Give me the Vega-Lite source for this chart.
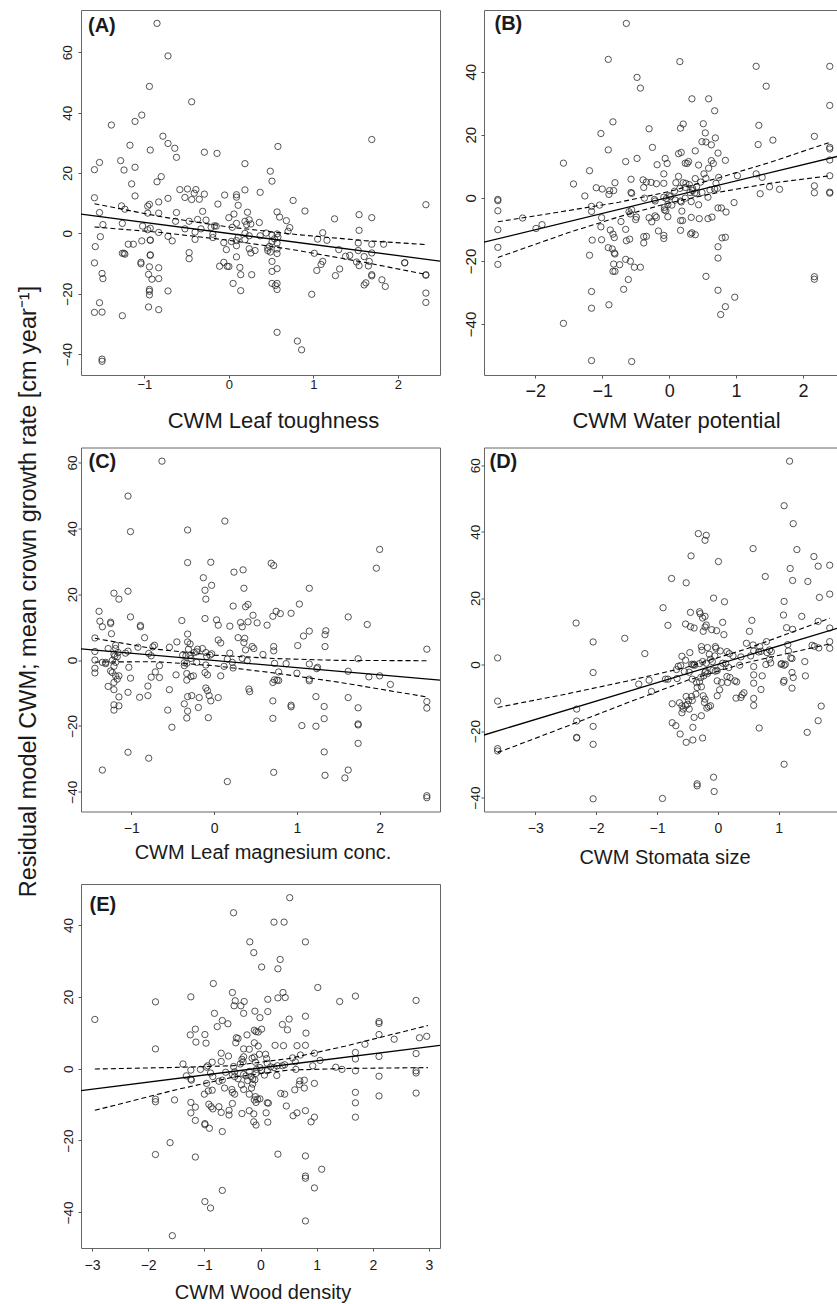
{
"$schema": "https://vega.github.io/schema/vega-lite/v6.json",
"usermeta": {"embedOptions": {"actions": false}},
"autosize": {"type": "pad"},
"padding": {"left": 15, "top": 9, "right": 0, "bottom": 0},
"background": "white",
"config": {
 "font": "Liberation Sans",
 "view": {"stroke": "#666666", "strokeWidth": 1},
 "axis": {"domain": false, "grid": false, "tickSize": 3, "tickColor": "#555555", "tickWidth": 1, "labelColor": "#1a1a1a", "titleColor": "#1a1a1a", "titleFontWeight": "normal", "labelFont": "Liberation Sans", "titleFont": "Liberation Sans", "labelFlush": false, "labelOverlap": false},
 "axisX": {"labelBaseline": "top", "labelAngle": 0, "labelAlign": "center", "titleBaseline": "alphabetic", "titleAlign": "center"},
 "axisY": {"labelAngle": 270, "labelAlign": "center", "labelBaseline": "middle"},
 "title": {"font": "Liberation Sans", "fontWeight": "bold", "fontSize": 20, "color": "#1a1a1a", "anchor": "start", "frame": "group", "orient": "top", "baseline": "alphabetic", "offset": -24}
},
"datasets": {
"A_pts": [
{"x":-0.85,"y":69.6},{"x":-0.72,"y":58.8},{"x":-0.94,"y":48.7},{"x":-0.44,"y":43.6},{"x":-1.03,"y":39.2},{"x":-1.11,"y":37.1},{"x":-1.39,"y":35.9},{"x":-0.78,"y":32.2},{"x":-0.72,"y":29.8},{"x":-0.64,"y":28.2},
{"x":-0.62,"y":25.2},{"x":-0.93,"y":27.6},{"x":-1.17,"y":29.2},{"x":-0.29,"y":26.9},{"x":-0.14,"y":26.5},{"x":0.58,"y":28.8},{"x":1.69,"y":31.1},{"x":0.19,"y":23.1},{"x":-1.28,"y":24.1},{"x":-1.59,"y":21.1},
{"x":-1.53,"y":23.5},{"x":-1.24,"y":21.0},{"x":-1.11,"y":21.9},{"x":-1.15,"y":16.4},{"x":-0.80,"y":18.8},{"x":-0.85,"y":17.1},{"x":-1.11,"y":12.4},{"x":0.49,"y":20.6},{"x":0.51,"y":17.3},{"x":-1.59,"y":11.8},
{"x":-1.53,"y":6.9},{"x":-1.49,"y":2.9},{"x":-1.52,"y":-1.1},{"x":-1.27,"y":9.1},{"x":-1.23,"y":8.0},{"x":-1.26,"y":3.3},{"x":-0.96,"y":9.0},{"x":-0.94,"y":9.6},{"x":-0.96,"y":6.7},{"x":-0.83,"y":10.4},
{"x":-0.72,"y":11.6},{"x":-0.83,"y":6.7},{"x":-0.58,"y":14.5},{"x":-0.52,"y":11.9},{"x":-0.49,"y":14.7},{"x":-0.39,"y":14.5},{"x":-0.41,"y":13.3},{"x":-0.44,"y":11.2},{"x":-0.35,"y":11.3},{"x":-0.29,"y":13.0},
{"x":-0.31,"y":7.3},{"x":-0.37,"y":4.6},{"x":-0.27,"y":4.4},{"x":-0.62,"y":6.9},{"x":-0.63,"y":4.0},{"x":-0.13,"y":9.7},{"x":-0.05,"y":12.7},{"x":0.09,"y":12.8},{"x":0.09,"y":12.0},{"x":0.11,"y":9.3},
{"x":0.19,"y":14.4},{"x":0.37,"y":13.6},{"x":0.76,"y":10.9},{"x":0.90,"y":7.4},{"x":0.22,"y":7.0},{"x":0.06,"y":6.4},{"x":0.57,"y":7.1},{"x":0.60,"y":5.4},{"x":0.68,"y":4.2},{"x":0.36,"y":3.6},
{"x":0.09,"y":3.3},{"x":0.19,"y":4.0},{"x":0.24,"y":4.5},{"x":0.26,"y":3.1},{"x":0.21,"y":2.9},{"x":-0.47,"y":4.0},{"x":-0.52,"y":1.5},{"x":-0.40,"y":0.4},{"x":-0.33,"y":1.5},{"x":-0.21,"y":2.0},
{"x":-0.17,"y":2.5},{"x":-0.15,"y":2.4},{"x":0.00,"y":5.2},{"x":0.04,"y":2.0},{"x":0.19,"y":0.0},{"x":0.24,"y":-0.8},{"x":0.11,"y":-1.3},{"x":0.37,"y":-0.8},{"x":0.44,"y":0.1},{"x":0.51,"y":-0.6},
{"x":0.54,"y":-1.8},{"x":0.57,"y":-0.2},{"x":0.58,"y":-1.2},{"x":0.70,"y":0.7},{"x":0.72,"y":1.9},{"x":0.51,"y":-2.8},{"x":0.57,"y":-3.2},{"x":-0.83,"y":0.3},{"x":-0.93,"y":1.7},{"x":-0.96,"y":1.2},
{"x":-1.02,"y":2.4},{"x":-0.72,"y":-1.0},{"x":-0.67,"y":-2.5},{"x":-0.40,"y":-2.0},{"x":-0.19,"y":-0.3},{"x":-0.19,"y":-1.4},{"x":-0.06,"y":-3.1},{"x":-0.03,"y":-5.4},{"x":0.03,"y":-2.7},{"x":0.09,"y":-2.4},
{"x":0.09,"y":-4.1},{"x":0.19,"y":-2.1},{"x":0.24,"y":-5.1},{"x":0.26,"y":-6.5},{"x":0.31,"y":-5.7},{"x":0.46,"y":-4.9},{"x":0.48,"y":-4.3},{"x":0.49,"y":-6.2},{"x":0.57,"y":-6.7},{"x":0.46,"y":-5.7},
{"x":0.51,"y":-9.3},{"x":0.57,"y":-5.2},{"x":1.11,"y":0.2},{"x":1.05,"y":-1.9},{"x":1.16,"y":-2.3},{"x":1.25,"y":4.8},{"x":1.54,"y":6.2},{"x":1.54,"y":1.0},{"x":1.69,"y":5.2},{"x":1.53,"y":-3.2},
{"x":1.69,"y":-3.6},{"x":1.83,"y":-3.6},{"x":1.30,"y":-5.4},{"x":1.01,"y":-6.6},{"x":1.38,"y":-7.6},{"x":1.43,"y":-7.3},{"x":1.53,"y":-5.7},{"x":1.60,"y":-7.7},{"x":1.69,"y":-6.5},{"x":1.51,"y":-9.5},
{"x":1.66,"y":-9.3},{"x":2.08,"y":-9.7},{"x":2.08,"y":-9.8},{"x":1.11,"y":-9.3},{"x":1.09,"y":-10.3},{"x":1.04,"y":-12.3},{"x":1.31,"y":-11.8},{"x":1.26,"y":-14.0},{"x":1.65,"y":-10.8},{"x":1.69,"y":-13.7},
{"x":1.69,"y":-14.1},{"x":1.60,"y":-17.1},{"x":1.62,"y":-16.4},{"x":1.81,"y":-15.4},{"x":1.85,"y":-17.6},{"x":1.54,"y":-10.7},{"x":0.98,"y":-20.2},{"x":-1.58,"y":-4.4},{"x":-1.59,"y":-9.8},{"x":-1.19,"y":-3.6},
{"x":-1.13,"y":-3.6},{"x":-1.26,"y":-6.6},{"x":-1.24,"y":-6.6},{"x":-1.23,"y":-6.9},{"x":-1.03,"y":-2.5},{"x":-1.04,"y":-9.6},{"x":-1.04,"y":-10.1},{"x":-0.93,"y":-2.2},{"x":-0.93,"y":-2.3},{"x":-0.93,"y":-7.1},
{"x":-0.93,"y":-7.3},{"x":-0.94,"y":-11.1},{"x":-0.83,"y":-11.4},{"x":-0.95,"y":-13.6},{"x":-0.91,"y":-15.2},{"x":-0.83,"y":-15.0},{"x":-0.94,"y":-18.6},{"x":-0.94,"y":-19.2},{"x":-0.94,"y":-20.4},{"x":-0.72,"y":-19.1},
{"x":-0.95,"y":-24.4},{"x":-0.83,"y":-25.3},{"x":-1.26,"y":-27.3},{"x":-1.59,"y":-26.2},{"x":-1.50,"y":-26.1},{"x":-1.53,"y":-23.0},{"x":-1.50,"y":-13.3},{"x":-1.49,"y":-15.0},{"x":-1.50,"y":-41.7},{"x":-1.50,"y":-42.4},
{"x":-0.47,"y":-6.4},{"x":-0.47,"y":-8.4},{"x":-0.11,"y":-10.9},{"x":-0.06,"y":-9.6},{"x":-0.02,"y":-10.9},{"x":0.00,"y":-11.0},{"x":0.09,"y":-7.8},{"x":0.13,"y":-11.3},{"x":0.14,"y":-13.7},{"x":0.05,"y":-16.6},
{"x":0.14,"y":-19.0},{"x":0.27,"y":-13.7},{"x":0.51,"y":-12.6},{"x":0.57,"y":-11.7},{"x":0.51,"y":-16.6},{"x":0.57,"y":-16.6},{"x":0.57,"y":-18.6},{"x":0.57,"y":-32.8},{"x":0.81,"y":-35.7},{"x":0.86,"y":-38.6},
{"x":0.55,"y":-17.3},{"x":2.33,"y":9.5},{"x":2.33,"y":-13.7},{"x":2.33,"y":-13.9},{"x":2.33,"y":-19.8},{"x":2.33,"y":-22.9}
],
"A_fit": [{"x":-1.749,"y":6.4},{"x":2.497,"y":-9.2}],
"A_ci": [
{"band":"upper","x":-1.59,"y":9.8},{"band":"upper","x":-0.8,"y":5.5},{"band":"upper","x":0,"y":2.1},{"band":"upper","x":0.8,"y":-0.4},{"band":"upper","x":1.6,"y":-2.4},{"band":"upper","x":2.33,"y":-3.7},
{"band":"lower","x":-1.59,"y":2.1},{"band":"lower","x":-0.8,"y":0.3},{"band":"lower","x":0,"y":-2.3},{"band":"lower","x":0.8,"y":-5.6},{"band":"lower","x":1.6,"y":-9.6},{"band":"lower","x":2.33,"y":-13.6}
],
"B_pts": [
{"x":-0.64,"y":55.3},{"x":-0.91,"y":43.9},{"x":0.16,"y":43.2},{"x":1.30,"y":41.7},{"x":2.40,"y":41.7},{"x":-0.48,"y":38.2},{"x":-0.43,"y":34.8},{"x":1.45,"y":35.4},{"x":0.34,"y":31.4},{"x":0.59,"y":31.4},
{"x":2.40,"y":29.3},{"x":0.68,"y":27.6},{"x":-0.84,"y":24.1},{"x":0.21,"y":23.4},{"x":0.17,"y":22.1},{"x":0.51,"y":23.5},{"x":-0.30,"y":21.9},{"x":-1.02,"y":20.4},{"x":0.54,"y":20.6},{"x":0.49,"y":17.8},
{"x":0.55,"y":17.7},{"x":0.69,"y":19.0},{"x":-0.91,"y":15.2},{"x":1.34,"y":23.0},{"x":1.33,"y":16.9},{"x":1.55,"y":18.3},{"x":2.17,"y":19.5},{"x":2.40,"y":16.0},{"x":2.40,"y":15.5},{"x":2.40,"y":12.0},
{"x":2.40,"y":7.0},{"x":2.40,"y":1.5},{"x":2.40,"y":1.8},{"x":2.17,"y":3.8},{"x":2.17,"y":1.6},{"x":-0.25,"y":16.0},{"x":-0.48,"y":12.5},{"x":-0.65,"y":11.5},{"x":-1.58,"y":11.0},{"x":-1.19,"y":8.6},
{"x":-0.06,"y":12.5},{"x":0.14,"y":14.0},{"x":0.18,"y":14.4},{"x":-0.03,"y":10.9},{"x":-0.18,"y":10.5},{"x":0.29,"y":11.5},{"x":0.24,"y":11.0},{"x":0.27,"y":10.9},{"x":0.39,"y":14.9},{"x":0.63,"y":16.8},
{"x":0.73,"y":14.2},{"x":0.63,"y":11.8},{"x":0.66,"y":10.9},{"x":0.84,"y":11.9},{"x":0.74,"y":6.5},{"x":0.72,"y":3.0},{"x":0.68,"y":2.8},{"x":0.61,"y":2.5},{"x":0.70,"y":4.6},{"x":0.55,"y":6.2},
{"x":0.52,"y":7.6},{"x":0.44,"y":10.4},{"x":0.59,"y":9.4},{"x":0.47,"y":5.0},{"x":0.49,"y":1.7},{"x":0.41,"y":3.5},{"x":0.39,"y":6.1},{"x":0.14,"y":6.8},{"x":0.10,"y":4.8},{"x":0.21,"y":4.8},
{"x":0.25,"y":4.6},{"x":0.30,"y":4.2},{"x":0.35,"y":3.0},{"x":0.31,"y":1.7},{"x":0.24,"y":3.3},{"x":0.16,"y":3.0},{"x":0.08,"y":2.1},{"x":0.02,"y":0.4},{"x":0.09,"y":-0.7},{"x":-0.04,"y":-0.2},
{"x":-0.08,"y":4.6},{"x":-0.08,"y":7.6},{"x":-0.19,"y":4.5},{"x":-0.27,"y":4.9},{"x":-0.34,"y":5.0},{"x":-0.39,"y":5.7},{"x":-0.38,"y":3.3},{"x":-0.57,"y":5.9},{"x":-0.81,"y":4.8},{"x":-0.83,"y":2.3},
{"x":-0.90,"y":1.1},{"x":-0.57,"y":1.7},{"x":-0.56,"y":1.4},{"x":-0.37,"y":-0.1},{"x":-0.22,"y":-0.5},{"x":-0.21,"y":-1.0},{"x":-0.08,"y":0.2},{"x":0.00,"y":0.7},{"x":-0.02,"y":-2.1},{"x":0.04,"y":-2.3},
{"x":-0.07,"y":-3.0},{"x":-0.07,"y":-3.8},{"x":-0.05,"y":-4.1},{"x":-0.02,"y":-6.0},{"x":0.17,"y":-1.0},{"x":0.18,"y":-1.3},{"x":0.24,"y":-0.1},{"x":0.35,"y":2.3},{"x":0.38,"y":1.5},{"x":0.33,"y":-1.2},
{"x":0.44,"y":-2.2},{"x":0.58,"y":0.2},{"x":0.41,"y":1.4},{"x":1.30,"y":7.6},{"x":1.39,"y":6.5},{"x":1.36,"y":1.3},{"x":1.50,"y":3.5},{"x":1.65,"y":2.7},{"x":1.02,"y":7.0},{"x":0.97,"y":-1.5},
{"x":0.85,"y":-4.5},{"x":0.78,"y":-3.2},{"x":0.73,"y":-3.2},{"x":0.64,"y":-6.1},{"x":0.58,"y":-6.6},{"x":0.33,"y":-6.2},{"x":0.45,"y":-6.6},{"x":0.19,"y":-4.2},{"x":0.20,"y":-7.2},{"x":0.17,"y":-7.2},
{"x":0.17,"y":-10.3},{"x":0.34,"y":-11.1},{"x":0.32,"y":-11.5},{"x":0.39,"y":-11.7},{"x":-0.21,"y":-5.7},{"x":-0.19,"y":-6.2},{"x":-0.30,"y":-6.3},{"x":-0.26,"y":-7.6},{"x":-0.16,"y":-10.5},{"x":-0.08,"y":-11.9},
{"x":-0.08,"y":-12.9},{"x":-0.38,"y":-12.3},{"x":-0.34,"y":-12.2},{"x":-0.38,"y":-14.3},{"x":-0.49,"y":-6.1},{"x":-0.50,"y":-6.9},{"x":-0.56,"y":-3.8},{"x":-0.60,"y":-4.4},{"x":-0.58,"y":-5.1},{"x":-0.72,"y":-7.5},
{"x":-0.65,"y":-10.0},{"x":-0.59,"y":-13.1},{"x":-0.64,"y":-13.6},{"x":-0.65,"y":-19.5},{"x":-0.58,"y":-20.1},{"x":-0.68,"y":-29.0},{"x":-0.61,"y":-25.9},{"x":-0.52,"y":-22.0},{"x":-0.43,"y":-22.0},{"x":-1.04,"y":-2.3},
{"x":-1.01,"y":-6.3},{"x":-1.02,"y":-9.2},{"x":-1.16,"y":-2.7},{"x":-1.16,"y":-4.3},{"x":-1.26,"y":0.6},{"x":-1.09,"y":3.2},{"x":-1.00,"y":2.8},{"x":-0.89,"y":2.3},{"x":-1.15,"y":-13.4},{"x":-1.01,"y":-13.3},
{"x":-0.88,"y":-10.2},{"x":-0.84,"y":-11.5},{"x":-0.82,"y":-12.6},{"x":-0.85,"y":-16.2},{"x":-0.82,"y":-17.5},{"x":-0.81,"y":-17.8},{"x":-0.74,"y":-21.2},{"x":-0.83,"y":-21.0},{"x":-0.81,"y":-23.3},{"x":-0.84,"y":-23.3},
{"x":-0.91,"y":-15.8},{"x":-1.19,"y":-18.2},{"x":-1.16,"y":-29.7},{"x":-1.16,"y":-35.0},{"x":-0.90,"y":-33.9},{"x":-1.16,"y":-51.6},{"x":-0.56,"y":-51.9},{"x":-1.58,"y":-39.8},{"x":-1.43,"y":4.4},{"x":-1.99,"y":-9.7},
{"x":-1.90,"y":-8.5},{"x":-2.19,"y":-6.4},{"x":-2.56,"y":-0.5},{"x":-2.56,"y":-0.9},{"x":-2.56,"y":-4.1},{"x":-2.56,"y":-10.1},{"x":-2.56,"y":-15.7},{"x":-2.56,"y":-21.1},{"x":0.55,"y":-24.9},{"x":0.73,"y":-29.3},
{"x":0.73,"y":-19.1},{"x":0.73,"y":-15.5},{"x":0.77,"y":-37.0},{"x":0.84,"y":-34.5},{"x":0.98,"y":-31.5},{"x":0.84,"y":-12.5},{"x":0.79,"y":-12.7},{"x":2.17,"y":-25.0},{"x":2.17,"y":-25.8}
],
"B_fit": [{"x":-2.767,"y":-14.05},{"x":2.523,"y":13.2}],
"B_ci": [
{"band":"upper","x":-2.56,"y":-7.6},{"band":"upper","x":-1.5,"y":-4.0},{"band":"upper","x":-0.75,"y":-1.4},{"band":"upper","x":0,"y":2.0},{"band":"upper","x":0.75,"y":6.4},{"band":"upper","x":1.5,"y":11.2},{"band":"upper","x":2.4,"y":17.6},
{"band":"lower","x":-2.56,"y":-18.9},{"band":"lower","x":-1.5,"y":-11.0},{"band":"lower","x":-0.75,"y":-6.0},{"band":"lower","x":0,"y":-1.6},{"band":"lower","x":0.75,"y":1.8},{"band":"lower","x":1.5,"y":4.6},{"band":"lower","x":2.4,"y":7.0}
],
"C_pts": [
{"x":-0.63,"y":60.4},{"x":-1.04,"y":49.8},{"x":-1.01,"y":39.0},{"x":0.13,"y":42.2},{"x":-0.32,"y":39.5},{"x":-0.32,"y":29.6},{"x":-0.04,"y":29.7},{"x":0.69,"y":29.4},{"x":0.72,"y":28.7},{"x":2.00,"y":33.6},
{"x":1.96,"y":27.9},{"x":-0.13,"y":25.0},{"x":-0.11,"y":21.2},{"x":-0.03,"y":22.7},{"x":0.36,"y":21.8},{"x":0.24,"y":26.7},{"x":0.35,"y":27.4},{"x":1.15,"y":21.8},{"x":-0.10,"y":18.5},{"x":0.23,"y":16.4},
{"x":0.38,"y":16.2},{"x":0.41,"y":16.9},{"x":0.47,"y":13.6},{"x":0.52,"y":11.3},{"x":0.32,"y":11.4},{"x":0.34,"y":10.1},{"x":0.41,"y":11.6},{"x":0.19,"y":10.3},{"x":0.03,"y":12.2},{"x":0.05,"y":10.6},
{"x":-0.11,"y":12.6},{"x":-0.39,"y":12.0},{"x":0.71,"y":13.3},{"x":0.75,"y":14.8},{"x":0.80,"y":14.1},{"x":0.93,"y":14.2},{"x":1.03,"y":17.0},{"x":0.64,"y":10.6},{"x":1.62,"y":13.1},{"x":1.85,"y":10.8},
{"x":1.15,"y":8.8},{"x":1.08,"y":7.3},{"x":1.34,"y":7.7},{"x":1.35,"y":8.9},{"x":1.34,"y":4.1},{"x":1.01,"y":4.4},{"x":-1.21,"y":20.3},{"x":-1.04,"y":20.9},{"x":-1.15,"y":18.5},{"x":-1.39,"y":14.8},
{"x":-1.38,"y":11.8},{"x":-1.35,"y":10.1},{"x":-1.25,"y":11.5},{"x":-1.25,"y":11.1},{"x":-1.01,"y":13.1},{"x":-0.89,"y":10.5},{"x":-0.89,"y":10.1},{"x":-0.84,"y":6.8},{"x":-1.24,"y":8.0},{"x":-1.44,"y":6.7},
{"x":-1.44,"y":2.6},{"x":-1.44,"y":0.0},{"x":-1.44,"y":-2.5},{"x":-1.44,"y":-3.9},{"x":-1.35,"y":-0.7},{"x":-1.31,"y":-0.7},{"x":-1.31,"y":-1.1},{"x":-1.25,"y":-3.3},{"x":-1.23,"y":-3.8},{"x":-1.28,"y":3.5},
{"x":-1.19,"y":4.5},{"x":-1.19,"y":3.5},{"x":-1.16,"y":2.3},{"x":-1.21,"y":1.8},{"x":-1.20,"y":1.2},{"x":-1.17,"y":1.0},{"x":-1.23,"y":-0.1},{"x":-1.19,"y":-0.7},{"x":-1.21,"y":-1.9},{"x":-1.19,"y":-4.8},
{"x":-1.21,"y":-6.8},{"x":-1.21,"y":-9.0},{"x":-1.15,"y":-4.8},{"x":-1.17,"y":-5.8},{"x":-1.15,"y":-11.2},{"x":-1.21,"y":-13.6},{"x":-1.21,"y":-15.2},{"x":-1.15,"y":-13.9},{"x":-1.28,"y":-8.0},{"x":-1.07,"y":2.1},
{"x":-1.04,"y":2.7},{"x":-1.03,"y":-2.2},{"x":-1.01,"y":-5.5},{"x":-1.04,"y":-9.8},{"x":-0.92,"y":3.9},{"x":-0.90,"y":-11.3},{"x":-0.79,"y":2.0},{"x":-0.76,"y":1.3},{"x":-0.74,"y":4.0},{"x":-0.72,"y":4.5},
{"x":-0.71,"y":-3.6},{"x":-0.66,"y":-5.3},{"x":-0.76,"y":-5.2},{"x":-0.80,"y":-7.9},{"x":-0.80,"y":-10.8},{"x":-0.66,"y":-1.7},{"x":-0.54,"y":3.9},{"x":-0.45,"y":5.5},{"x":-0.38,"y":1.5},{"x":-0.36,"y":-0.8},
{"x":-0.36,"y":-1.7},{"x":-0.33,"y":-1.0},{"x":-0.32,"y":7.9},{"x":-0.32,"y":5.5},{"x":-0.29,"y":4.9},{"x":-0.31,"y":3.3},{"x":-0.34,"y":1.3},{"x":-0.33,"y":-4.1},{"x":-0.33,"y":-6.1},{"x":-0.29,"y":1.5},
{"x":-0.28,"y":0.5},{"x":-0.24,"y":2.3},{"x":-0.21,"y":2.5},{"x":-0.20,"y":3.3},{"x":-0.14,"y":3.5},{"x":-0.10,"y":2.3},{"x":-0.09,"y":1.1},{"x":-0.05,"y":1.5},{"x":-0.03,"y":1.9},{"x":-0.21,"y":-0.7},
{"x":-0.10,"y":-1.5},{"x":-0.11,"y":-3.8},{"x":-0.08,"y":-4.5},{"x":-0.25,"y":-4.8},{"x":-0.28,"y":-5.0},{"x":-0.46,"y":-4.5},{"x":-0.54,"y":-9.0},{"x":-0.51,"y":-20.4},{"x":-0.56,"y":-15.2},{"x":-0.36,"y":-13.3},
{"x":-0.32,"y":-11.1},{"x":-0.32,"y":-15.5},{"x":-0.33,"y":-17.6},{"x":-0.27,"y":-10.8},{"x":-0.18,"y":-11.4},{"x":-0.19,"y":-14.4},{"x":-0.10,"y":-8.5},{"x":-0.08,"y":-9.3},{"x":-0.06,"y":-10.8},{"x":-0.04,"y":-12.4},
{"x":-0.07,"y":-17.5},{"x":0.05,"y":-11.4},{"x":0.08,"y":-4.8},{"x":0.05,"y":6.1},{"x":0.08,"y":5.2},{"x":0.19,"y":2.1},{"x":0.22,"y":-0.7},{"x":0.23,"y":-2.4},{"x":0.12,"y":-1.9},{"x":0.16,"y":0.3},
{"x":0.29,"y":6.8},{"x":0.36,"y":5.3},{"x":0.38,"y":3.1},{"x":0.34,"y":0.5},{"x":0.40,"y":-0.2},{"x":0.46,"y":4.1},{"x":0.48,"y":3.5},{"x":0.37,"y":6.6},{"x":0.59,"y":1.7},{"x":0.72,"y":4.1},
{"x":0.72,"y":2.8},{"x":0.73,"y":-1.0},{"x":0.71,"y":-6.8},{"x":0.73,"y":-6.0},{"x":0.76,"y":-6.1},{"x":0.78,"y":-6.2},{"x":0.78,"y":-3.6},{"x":0.87,"y":-1.1},{"x":0.71,"y":-12.4},{"x":0.71,"y":-17.7},
{"x":0.42,"y":-8.8},{"x":0.43,"y":-9.6},{"x":1.00,"y":-4.0},{"x":1.15,"y":-1.2},{"x":1.15,"y":-5.8},{"x":1.15,"y":-6.3},{"x":1.24,"y":-2.6},{"x":1.25,"y":-2.2},{"x":1.23,"y":-11.1},{"x":0.93,"y":-13.7},
{"x":0.93,"y":-14.2},{"x":1.06,"y":-19.9},{"x":1.23,"y":-20.1},{"x":1.33,"y":-14.1},{"x":1.33,"y":-17.8},{"x":1.33,"y":-27.9},{"x":1.34,"y":-35.0},{"x":1.62,"y":-3.4},{"x":1.74,"y":0.4},{"x":1.87,"y":-5.1},
{"x":2.00,"y":-4.8},{"x":2.13,"y":-7.4},{"x":1.62,"y":-11.4},{"x":1.74,"y":-14.5},{"x":1.74,"y":-19.4},{"x":1.74,"y":-19.7},{"x":1.74,"y":-25.3},{"x":1.62,"y":-33.4},{"x":1.58,"y":-35.8},{"x":-1.35,"y":-33.4},
{"x":-1.04,"y":-28.0},{"x":-0.79,"y":-29.8},{"x":0.16,"y":-36.9},{"x":0.72,"y":-34.1},{"x":2.57,"y":3.3},{"x":2.57,"y":-12.6},{"x":2.57,"y":-14.6},{"x":2.57,"y":-41.2},{"x":2.57,"y":-41.8}
],
"C_fit": [{"x":-1.608,"y":3.4},{"x":2.729,"y":-6.1}],
"C_ci": [
{"band":"upper","x":-1.44,"y":6.6},{"band":"upper","x":-0.7,"y":3.3},{"band":"upper","x":0,"y":1.5},{"band":"upper","x":0.75,"y":0.45},{"band":"upper","x":1.5,"y":-0.1},{"band":"upper","x":2.57,"y":-0.2},
{"band":"lower","x":-1.44,"y":-0.6},{"band":"lower","x":-0.7,"y":-0.5},{"band":"lower","x":0,"y":-1.7},{"band":"lower","x":0.75,"y":-4.0},{"band":"lower","x":1.5,"y":-6.7},{"band":"lower","x":2.57,"y":-11.2}
],
"D_pts": [
{"x":1.18,"y":61.2},{"x":1.09,"y":47.8},{"x":1.24,"y":42.4},{"x":1.30,"y":34.6},{"x":1.58,"y":32.5},{"x":1.65,"y":29.6},{"x":1.84,"y":29.9},{"x":1.19,"y":28.9},{"x":1.23,"y":25.3},{"x":1.48,"y":25.0},
{"x":0.78,"y":26.5},{"x":0.58,"y":34.9},{"x":-0.32,"y":39.4},{"x":-0.19,"y":38.9},{"x":-0.21,"y":37.4},{"x":-0.44,"y":32.7},{"x":0.01,"y":31.0},{"x":-0.76,"y":25.9},{"x":-0.52,"y":24.6},{"x":-0.07,"y":20.0},
{"x":0.11,"y":18.9},{"x":1.09,"y":19.0},{"x":1.67,"y":20.2},{"x":1.84,"y":21.2},{"x":-0.90,"y":17.1},{"x":-0.82,"y":11.8},{"x":-0.45,"y":15.7},{"x":-0.30,"y":15.9},{"x":-0.29,"y":15.3},{"x":-0.21,"y":14.5},
{"x":-0.25,"y":14.0},{"x":-0.53,"y":12.2},{"x":-0.45,"y":11.4},{"x":-0.39,"y":11.0},{"x":-0.24,"y":10.0},{"x":-0.19,"y":11.9},{"x":-0.21,"y":11.3},{"x":-0.10,"y":10.5},{"x":-0.02,"y":10.2},{"x":0.08,"y":12.7},
{"x":0.10,"y":9.0},{"x":0.56,"y":13.3},{"x":0.52,"y":10.0},{"x":1.08,"y":14.9},{"x":1.13,"y":11.1},{"x":1.23,"y":10.6},{"x":1.38,"y":14.5},{"x":1.65,"y":13.0},{"x":1.84,"y":11.0},{"x":1.84,"y":6.9},
{"x":1.84,"y":4.9},{"x":1.55,"y":5.8},{"x":1.59,"y":5.5},{"x":1.66,"y":5.0},{"x":1.15,"y":6.0},{"x":1.16,"y":4.1},{"x":1.20,"y":2.0},{"x":1.22,"y":1.8},{"x":1.11,"y":0.1},{"x":1.05,"y":0.3},
{"x":1.09,"y":-0.2},{"x":1.09,"y":-4.8},{"x":1.08,"y":-5.3},{"x":1.22,"y":-2.4},{"x":1.24,"y":-3.9},{"x":1.22,"y":-7.1},{"x":1.43,"y":0.9},{"x":1.44,"y":-3.4},{"x":0.80,"y":6.9},{"x":0.85,"y":4.4},
{"x":0.88,"y":3.9},{"x":0.81,"y":3.6},{"x":0.71,"y":4.0},{"x":0.67,"y":3.8},{"x":0.58,"y":5.9},{"x":0.47,"y":6.4},{"x":0.59,"y":4.1},{"x":0.54,"y":2.6},{"x":0.38,"y":2.3},{"x":0.36,"y":-0.2},
{"x":0.25,"y":2.6},{"x":0.19,"y":3.3},{"x":0.15,"y":3.9},{"x":0.04,"y":4.1},{"x":-0.03,"y":4.9},{"x":-0.04,"y":5.4},{"x":-0.17,"y":5.1},{"x":-0.27,"y":5.4},{"x":-0.26,"y":4.3},{"x":-0.14,"y":3.1},
{"x":-0.05,"y":2.6},{"x":-0.12,"y":1.6},{"x":-0.09,"y":0.9},{"x":-0.19,"y":0.4},{"x":-0.25,"y":0.9},{"x":-0.30,"y":0.3},{"x":-0.38,"y":-0.2},{"x":-0.39,"y":0.1},{"x":-0.43,"y":0.1},{"x":-0.41,"y":-0.1},
{"x":-0.53,"y":1.3},{"x":-0.59,"y":2.5},{"x":-0.46,"y":3.6},{"x":-0.61,"y":-0.3},{"x":-0.65,"y":-0.5},{"x":-0.68,"y":-1.5},{"x":-0.67,"y":-4.2},{"x":-0.55,"y":-2.1},{"x":-0.47,"y":-2.3},{"x":-0.42,"y":-4.4},
{"x":-0.35,"y":-5.4},{"x":-0.30,"y":-5.2},{"x":-0.28,"y":-3.9},{"x":-0.23,"y":-3.4},{"x":-0.20,"y":-2.0},{"x":-0.17,"y":-2.7},{"x":-0.21,"y":-2.3},{"x":-0.08,"y":-1.7},{"x":-0.04,"y":-2.0},{"x":-0.01,"y":-1.8},
{"x":0.05,"y":-0.6},{"x":0.08,"y":0.4},{"x":0.13,"y":0.3},{"x":0.18,"y":-0.9},{"x":0.15,"y":-3.6},{"x":0.20,"y":-3.9},{"x":0.28,"y":-4.9},{"x":0.31,"y":-5.2},{"x":0.16,"y":-5.4},{"x":0.06,"y":-5.4},
{"x":-0.01,"y":-4.9},{"x":0.03,"y":-7.6},{"x":-0.01,"y":-9.4},{"x":0.30,"y":-10.1},{"x":0.38,"y":-9.9},{"x":0.40,"y":-9.1},{"x":0.43,"y":-8.5},{"x":0.59,"y":-0.6},{"x":0.59,"y":-3.1},{"x":0.59,"y":-5.6},
{"x":0.73,"y":-3.4},{"x":0.71,"y":-7.5},{"x":0.59,"y":-10.2},{"x":0.59,"y":-12.3},{"x":0.68,"y":-19.1},{"x":0.87,"y":0.5},{"x":-0.27,"y":-6.7},{"x":-0.34,"y":-6.9},{"x":-0.36,"y":-8.9},{"x":-0.24,"y":-9.4},
{"x":-0.21,"y":-10.4},{"x":-0.18,"y":-13.1},{"x":-0.15,"y":-12.7},{"x":-0.12,"y":-12.4},{"x":-0.22,"y":-11.4},{"x":-0.27,"y":-15.4},{"x":-0.39,"y":-15.9},{"x":-0.41,"y":-18.9},{"x":-0.25,"y":-22.1},{"x":-0.41,"y":-22.7},
{"x":-0.52,"y":-23.4},{"x":-0.62,"y":-20.9},{"x":-0.59,"y":-14.5},{"x":-0.59,"y":-12.4},{"x":-0.53,"y":-12.4},{"x":-0.50,"y":-12.0},{"x":-0.48,"y":-10.8},{"x":-0.52,"y":-9.6},{"x":-0.43,"y":-9.6},{"x":-0.42,"y":-10.8},
{"x":-0.47,"y":-13.4},{"x":-0.57,"y":-13.4},{"x":-0.63,"y":-11.5},{"x":-0.75,"y":-11.8},{"x":-0.75,"y":-17.5},{"x":-0.69,"y":-18.4},{"x":-0.86,"y":-4.4},{"x":-0.82,"y":-4.4},{"x":-1.13,"y":-4.7},{"x":-1.09,"y":-8.1},
{"x":-1.30,"y":-5.9},{"x":-1.20,"y":3.3},{"x":-1.53,"y":7.9},{"x":-2.05,"y":6.8},{"x":-2.05,"y":-2.4},{"x":-2.33,"y":12.5},{"x":-2.32,"y":-13.4},{"x":-2.32,"y":-17.0},{"x":-2.32,"y":-21.9},{"x":-2.32,"y":-22.1},
{"x":-2.05,"y":-18.6},{"x":-2.05,"y":-24.0},{"x":-3.62,"y":2.0},{"x":-3.62,"y":-11.0},{"x":-3.62,"y":-25.3},{"x":-3.62,"y":-26.0},{"x":-0.07,"y":-33.9},{"x":-0.06,"y":-38.2},{"x":-0.34,"y":-35.9},{"x":-0.34,"y":-36.5},
{"x":-2.05,"y":-40.4},{"x":-0.91,"y":-40.3},{"x":1.09,"y":-30.0},{"x":1.65,"y":-16.9},{"x":1.70,"y":-12.5},{"x":1.47,"y":-20.4},{"x":0.79,"y":0.0},{"x":0.85,"y":1.6},{"x":1.04,"y":0.1},{"x":0.69,"y":5.4}
],
"D_fit": [{"x":-3.844,"y":-21.2},{"x":1.976,"y":11.0}],
"D_ci": [
{"band":"upper","x":-3.62,"y":-12.9},{"band":"upper","x":-2.5,"y":-8.9},{"band":"upper","x":-1.5,"y":-5.0},{"band":"upper","x":-0.5,"y":-0.75},{"band":"upper","x":0.5,"y":4.9},{"band":"upper","x":1.84,"y":13.9},
{"band":"lower","x":-3.62,"y":-26.5},{"band":"lower","x":-2.5,"y":-18.7},{"band":"lower","x":-1.5,"y":-11.6},{"band":"lower","x":-0.5,"y":-4.75},{"band":"lower","x":0.5,"y":0.7},{"band":"lower","x":1.84,"y":6.2}
],
"E_pts": [
{"x":0.52,"y":47.6},{"x":-0.48,"y":43.4},{"x":0.24,"y":40.8},{"x":0.42,"y":40.8},{"x":0.80,"y":35.3},{"x":-0.19,"y":35.3},{"x":-0.12,"y":32.3},{"x":0.35,"y":30.4},{"x":0.02,"y":28.3},{"x":0.31,"y":27.8},
{"x":1.02,"y":22.6},{"x":-0.84,"y":23.7},{"x":-0.50,"y":21.2},{"x":-0.45,"y":18.9},{"x":-0.47,"y":17.5},{"x":-0.35,"y":17.5},{"x":-0.29,"y":18.7},{"x":-0.30,"y":15.4},{"x":-0.10,"y":16.0},{"x":-0.01,"y":14.2},
{"x":0.13,"y":19.3},{"x":0.13,"y":15.9},{"x":0.31,"y":19.7},{"x":0.40,"y":21.2},{"x":0.44,"y":19.8},{"x":0.51,"y":13.8},{"x":0.39,"y":12.3},{"x":0.48,"y":10.8},{"x":0.80,"y":14.6},{"x":0.81,"y":9.9},
{"x":1.41,"y":18.7},{"x":1.69,"y":20.2},{"x":2.77,"y":19.0},{"x":2.11,"y":13.1},{"x":2.11,"y":12.6},{"x":2.11,"y":9.5},{"x":2.38,"y":8.2},{"x":1.86,"y":6.8},{"x":2.83,"y":8.6},{"x":2.96,"y":9.0},
{"x":-1.87,"y":18.6},{"x":-1.24,"y":20.0},{"x":-1.87,"y":5.5},{"x":-2.95,"y":13.7},{"x":-1.16,"y":11.0},{"x":-0.99,"y":9.5},{"x":-1.25,"y":9.4},{"x":-1.15,"y":7.4},{"x":-0.97,"y":7.1},{"x":-0.82,"y":15.4},
{"x":-0.68,"y":13.4},{"x":-0.58,"y":12.5},{"x":-0.77,"y":11.7},{"x":-0.43,"y":8.6},{"x":-0.40,"y":8.4},{"x":-0.44,"y":7.2},{"x":-0.24,"y":9.4},{"x":-0.11,"y":10.7},{"x":-0.08,"y":10.3},{"x":-0.04,"y":10.2},
{"x":-0.11,"y":7.2},{"x":-0.04,"y":6.3},{"x":0.02,"y":11.0},{"x":-0.20,"y":5.4},{"x":-0.30,"y":5.5},{"x":0.26,"y":6.5},{"x":0.41,"y":6.4},{"x":0.65,"y":6.4},{"x":0.80,"y":6.5},{"x":0.71,"y":3.8},
{"x":0.96,"y":4.3},{"x":1.06,"y":2.3},{"x":0.93,"y":0.8},{"x":0.62,"y":1.9},{"x":0.57,"y":3.0},{"x":0.43,"y":1.1},{"x":0.39,"y":0.8},{"x":0.30,"y":0.8},{"x":0.24,"y":0.3},{"x":0.18,"y":0.5},
{"x":0.12,"y":1.5},{"x":0.09,"y":4.0},{"x":0.11,"y":2.8},{"x":-0.02,"y":4.0},{"x":-0.11,"y":3.2},{"x":-0.15,"y":2.9},{"x":-0.09,"y":1.8},{"x":-0.30,"y":3.3},{"x":-0.33,"y":2.6},{"x":-0.31,"y":1.9},
{"x":-0.36,"y":1.3},{"x":-0.70,"y":4.3},{"x":-0.57,"y":3.5},{"x":-0.70,"y":2.0},{"x":-0.86,"y":1.8},{"x":-0.94,"y":0.8},{"x":-0.96,"y":0.4},{"x":-1.07,"y":-0.2},{"x":-1.24,"y":-0.4},{"x":-1.32,"y":-2.0},
{"x":-1.38,"y":1.3},{"x":-1.23,"y":-3.2},{"x":-1.24,"y":-2.9},{"x":-1.00,"y":-7.1},{"x":-0.96,"y":-4.1},{"x":-0.93,"y":-6.2},{"x":-0.86,"y":-6.0},{"x":-0.85,"y":-2.2},{"x":-0.89,"y":-1.2},{"x":-0.74,"y":-3.5},
{"x":-0.68,"y":-3.2},{"x":-0.62,"y":-1.0},{"x":-0.64,"y":-5.4},{"x":-0.50,"y":-1.6},{"x":-0.48,"y":0.6},{"x":-0.46,"y":-0.9},{"x":-0.46,"y":-2.2},{"x":-0.40,"y":-2.8},{"x":-0.34,"y":-4.5},{"x":-0.30,"y":-1.6},
{"x":-0.26,"y":-2.0},{"x":-0.23,"y":-3.3},{"x":-0.20,"y":-0.8},{"x":-0.17,"y":-2.2},{"x":-0.14,"y":-2.9},{"x":-0.14,"y":-4.3},{"x":-0.10,"y":-3.1},{"x":-0.08,"y":-1.3},{"x":-0.07,"y":-0.2},{"x":-0.01,"y":0.3},
{"x":0.02,"y":-0.4},{"x":0.07,"y":-1.8},{"x":0.12,"y":-0.6},{"x":-0.30,"y":-5.8},{"x":-0.16,"y":-5.4},{"x":-0.51,"y":-5.8},{"x":-0.50,"y":-6.6},{"x":-0.46,"y":-7.1},{"x":-0.20,"y":-7.1},{"x":-0.09,"y":-7.8},
{"x":-0.11,"y":-8.7},{"x":-0.05,"y":-8.5},{"x":-0.01,"y":-8.4},{"x":-0.08,"y":-9.4},{"x":0.14,"y":-9.6},{"x":0.29,"y":-1.9},{"x":0.63,"y":-0.2},{"x":0.70,"y":-3.4},{"x":0.69,"y":-4.4},{"x":0.78,"y":-5.4},
{"x":0.78,"y":-3.2},{"x":0.61,"y":-5.9},{"x":0.65,"y":-12.3},{"x":0.58,"y":-13.1},{"x":0.46,"y":-10.4},{"x":0.43,"y":-7.1},{"x":0.36,"y":-6.9},{"x":0.80,"y":-11.7},{"x":0.96,"y":-4.1},{"x":0.90,"y":-14.8},
{"x":0.96,"y":-13.5},{"x":1.34,"y":0.4},{"x":1.45,"y":-0.2},{"x":1.69,"y":4.5},{"x":1.69,"y":2.7},{"x":1.69,"y":-0.6},{"x":1.69,"y":-6.6},{"x":1.69,"y":-9.5},{"x":1.69,"y":-13.5},{"x":2.11,"y":3.4},
{"x":2.11,"y":-2.1},{"x":2.11,"y":-7.6},{"x":2.77,"y":4.2},{"x":2.77,"y":-0.6},{"x":2.77,"y":-1.2},{"x":2.77,"y":-6.8},{"x":-1.87,"y":-8.5},{"x":-1.87,"y":-9.2},{"x":-1.53,"y":-8.7},{"x":-1.24,"y":-9.4},
{"x":-1.16,"y":-10.7},{"x":-1.24,"y":-12.3},{"x":-1.16,"y":-14.4},{"x":-0.99,"y":-15.3},{"x":-0.99,"y":-15.6},{"x":-0.91,"y":-16.6},{"x":-0.92,"y":-9.9},{"x":-0.88,"y":-10.6},{"x":-0.85,"y":-11.2},{"x":-0.74,"y":-10.6},
{"x":-0.70,"y":-12.2},{"x":-0.68,"y":-17.5},{"x":-0.56,"y":-12.9},{"x":-0.50,"y":-9.7},{"x":-0.56,"y":-11.6},{"x":-0.33,"y":-12.5},{"x":-0.20,"y":-11.7},{"x":-0.12,"y":-12.6},{"x":-0.12,"y":-14.8},{"x":-0.08,"y":-15.7},
{"x":0.10,"y":-12.3},{"x":0.13,"y":-14.9},{"x":0.12,"y":-9.5},{"x":-1.87,"y":-23.9},{"x":-1.61,"y":-20.6},{"x":-1.16,"y":-24.6},{"x":-0.99,"y":-37.0},{"x":-0.89,"y":-38.8},{"x":-0.68,"y":-33.9},{"x":-1.57,"y":-46.5},
{"x":0.31,"y":-23.8},{"x":0.80,"y":-24.3},{"x":0.80,"y":-29.9},{"x":0.80,"y":-30.5},{"x":0.96,"y":-33.2},{"x":1.09,"y":-28.0},{"x":0.80,"y":-42.4}
],
"E_fit": [{"x":-3.196,"y":-6.1},{"x":3.196,"y":6.5}],
"E_ci": [
{"band":"upper","x":-2.95,"y":-0.1},{"band":"upper","x":-1.5,"y":0.35},{"band":"upper","x":-0.5,"y":0.8},{"band":"upper","x":0.5,"y":2.8},{"band":"upper","x":1.5,"y":6.25},{"band":"upper","x":2.98,"y":12.0},
{"band":"lower","x":-2.95,"y":-11.6},{"band":"lower","x":-1.5,"y":-5.85},{"band":"lower","x":-0.5,"y":-2.4},{"band":"lower","x":0.5,"y":-0.4},{"band":"lower","x":1.5,"y":0.05},{"band":"lower","x":2.98,"y":0.3}
]
},
"columns": 2,
"spacing": {"row": 72.5, "column": 44},
"bounds": "flush",
"concat": [
 {
  "width": 359, "height": 365,
  "title": {"text": "(A)", "dx": 7, "offset": -25.5},
  "encoding": {
   "x": {"field": "x", "type": "quantitative", "scale": {"domain": [-1.749, 2.497], "nice": false, "zero": false}, "axis": {"values": [-1, 0, 1, 2], "title": "CWM Leaf toughness", "titleFontSize": 22, "titleX": 192, "titleY": 52.4, "labelFontSize": 13, "labelPadding": 0.5}},
   "y": {"field": "y", "type": "quantitative", "scale": {"domain": [-46.95, 74.03], "nice": false, "zero": false}, "axis": {"values": [-40, -20, 0, 20, 40, 60], "title": "Residual model CWM; mean crown growth rate [cm year⁻¹]", "titleFontSize": 23.5, "titleAngle": 270, "titleAlign": "center", "titleBaseline": "alphabetic", "titleX": -45.7, "titleY": 581, "labelFontSize": 13.5, "labelPadding": 11}}
  },
  "layer": [
   {"data": {"name": "A_pts"}, "mark": {"type": "point", "shape": "circle", "filled": false, "size": 40, "stroke": "#2a2a2a", "strokeWidth": 0.8, "opacity": 1}},
   {"data": {"name": "A_fit"}, "mark": {"type": "line", "color": "#000000", "strokeWidth": 1.3, "clip": true}},
   {"data": {"name": "A_ci"}, "mark": {"type": "line", "color": "#000000", "strokeWidth": 1.1, "strokeDash": [5, 3], "clip": true}, "encoding": {"detail": {"field": "band", "type": "nominal"}}}
  ]
 },
 {
  "width": 354, "height": 365,
  "title": {"text": "(B)", "dx": 10.5},
  "encoding": {
   "x": {"field": "x", "type": "quantitative", "scale": {"domain": [-2.767, 2.523], "nice": false, "zero": false}, "axis": {"values": [-2, -1, 0, 1, 2], "title": "CWM Water potential", "titleFontSize": 22, "titleX": 192, "titleY": 52.4, "labelFontSize": 18, "labelPadding": 4.5}},
   "y": {"field": "y", "type": "quantitative", "scale": {"domain": [-56.17, 59.56], "nice": false, "zero": false}, "axis": {"values": [-40, -20, 0, 20, 40], "title": null, "labelFontSize": 15, "labelPadding": 10.5}}
  },
  "layer": [
   {"data": {"name": "B_pts"}, "mark": {"type": "point", "shape": "circle", "filled": false, "size": 40, "stroke": "#2a2a2a", "strokeWidth": 0.8, "opacity": 1}},
   {"data": {"name": "B_fit"}, "mark": {"type": "line", "color": "#000000", "strokeWidth": 1.3, "clip": true}},
   {"data": {"name": "B_ci"}, "mark": {"type": "line", "color": "#000000", "strokeWidth": 1.1, "strokeDash": [5, 3], "clip": true}, "encoding": {"detail": {"field": "band", "type": "nominal"}}}
  ]
 },
 {
  "width": 359, "height": 364,
  "title": {"text": "(C)", "dx": 7.5},
  "encoding": {
   "x": {"field": "x", "type": "quantitative", "scale": {"domain": [-1.608, 2.729], "nice": false, "zero": false}, "axis": {"values": [-1, 0, 1, 2], "title": "CWM Leaf magnesium conc.", "titleFontSize": 20, "titleX": 181.5, "titleY": 47.3, "labelFontSize": 14, "labelPadding": 7}},
   "y": {"field": "y", "type": "quantitative", "scale": {"domain": [-45.99, 64.55], "nice": false, "zero": false}, "axis": {"values": [-40, -20, 0, 20, 40, 60], "title": null, "labelFontSize": 13.5, "labelPadding": 5.2}}
  },
  "layer": [
   {"data": {"name": "C_pts"}, "mark": {"type": "point", "shape": "circle", "filled": false, "size": 40, "stroke": "#2a2a2a", "strokeWidth": 0.8, "opacity": 1}},
   {"data": {"name": "C_fit"}, "mark": {"type": "line", "color": "#000000", "strokeWidth": 1.3, "clip": true}},
   {"data": {"name": "C_ci"}, "mark": {"type": "line", "color": "#000000", "strokeWidth": 1.1, "strokeDash": [5, 3], "clip": true}, "encoding": {"detail": {"field": "band", "type": "nominal"}}}
  ]
 },
 {
  "width": 354, "height": 364,
  "title": {"text": "(D)", "dx": 5.5},
  "encoding": {
   "x": {"field": "x", "type": "quantitative", "scale": {"domain": [-3.844, 1.976], "nice": false, "zero": false}, "axis": {"values": [-3, -2, -1, 0, 1], "title": "CWM Stomata size", "titleFontSize": 20, "titleX": 180.5, "titleY": 52.3, "labelFontSize": 14, "labelPadding": 7}},
   "y": {"field": "y", "type": "quantitative", "scale": {"domain": [-44.22, 65.32], "nice": false, "zero": false}, "axis": {"values": [-40, -20, 0, 20, 40, 60], "title": null, "labelFontSize": 13.5, "labelPadding": 6}}
  },
  "layer": [
   {"data": {"name": "D_pts"}, "mark": {"type": "point", "shape": "circle", "filled": false, "size": 40, "stroke": "#2a2a2a", "strokeWidth": 0.8, "opacity": 1}},
   {"data": {"name": "D_fit"}, "mark": {"type": "line", "color": "#000000", "strokeWidth": 1.3, "clip": true}},
   {"data": {"name": "D_ci"}, "mark": {"type": "line", "color": "#000000", "strokeWidth": 1.1, "strokeDash": [5, 3], "clip": true}, "encoding": {"detail": {"field": "band", "type": "nominal"}}}
  ]
 },
 {
  "width": 359, "height": 364,
  "title": {"text": "(E)", "dx": 8.5, "offset": -31},
  "encoding": {
   "x": {"field": "x", "type": "quantitative", "scale": {"domain": [-3.196, 3.196], "nice": false, "zero": false}, "axis": {"values": [-3, -2, -1, 0, 1, 2, 3], "title": "CWM Wood density", "titleFontSize": 20, "titleX": 181.5, "titleY": 50.5, "labelFontSize": 14, "labelPadding": 7}},
   "y": {"field": "y", "type": "quantitative", "scale": {"domain": [-49.93, 51.41], "nice": false, "zero": false}, "axis": {"values": [-40, -20, 0, 20, 40], "title": null, "labelFontSize": 13.5, "labelPadding": 9.4}}
  },
  "layer": [
   {"data": {"name": "E_pts"}, "mark": {"type": "point", "shape": "circle", "filled": false, "size": 40, "stroke": "#2a2a2a", "strokeWidth": 0.8, "opacity": 1}},
   {"data": {"name": "E_fit"}, "mark": {"type": "line", "color": "#000000", "strokeWidth": 1.3, "clip": true}},
   {"data": {"name": "E_ci"}, "mark": {"type": "line", "color": "#000000", "strokeWidth": 1.1, "strokeDash": [5, 3], "clip": true}, "encoding": {"detail": {"field": "band", "type": "nominal"}}}
  ]
 }
]
}
